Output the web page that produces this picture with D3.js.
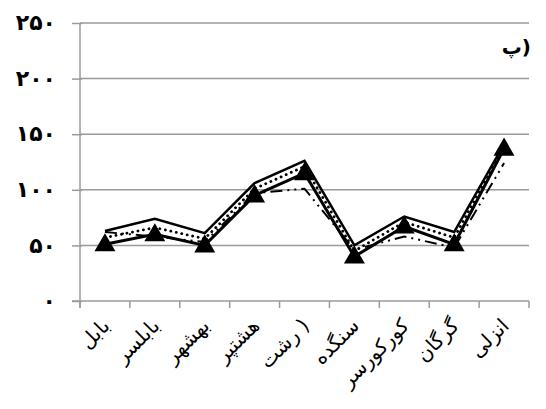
<!DOCTYPE html>
<html>
<head>
<meta charset="utf-8">
<script src="https://cdn.jsdelivr.net/npm/d3@7"></script>
<style>
  html, body { margin: 0; padding: 0; background: #fff; }
  svg { display: block; }
</style>
</head>
<body>
<svg id="chart" width="546" height="409"></svg>
<script>
// Stations along the x axis
const categories = ["بابل", "بابلسر", "بهشهر", "هشتپر", "رشت )", "سنگده", "کورکورسر", "گرگان", "انزلی"];

// Series values per station
const solidSeries    = [63, 74, 61, 106, 126, 50, 76, 62, 141];
const dottedSeries   = [57, 66, 56, 101, 121, 45, 71, 57, 139];
const dashDotSeries  = [62, 58, 53, 97, 101, 46, 58, 48, 124];
const triangleSeries = [51, 60, 50, 95, 115, 40, 67, 51, 137];

// Y axis ticks and their Persian labels
const yTicks = [0, 50, 100, 150, 200, 250];
const yTickLabels = ["۰", "۵۰", "۱۰۰", "۱۵۰", "۲۰۰", "۲۵۰"];

const panelLabel = "پ)";

const svg = d3.select("#chart");
const margin = { left: 80, right: 17, top: 23, bottom: 108 };
const width = 546, height = 409;

const x = d3.scaleBand()
  .domain(categories)
  .range([margin.left, width - margin.right])
  .paddingInner(0).paddingOuter(0);

const y = d3.scaleLinear()
  .domain([0, 250])
  .range([height - margin.bottom, margin.top]);

const gridColor = "#9a9a9a";
const fontFamily = "DejaVu Sans, sans-serif";

// Horizontal gridlines
svg.append("g")
  .selectAll("line")
  .data(yTicks.filter(d => d > 0))
  .join("line")
  .attr("x1", margin.left)
  .attr("x2", width - margin.right)
  .attr("y1", d => y(d))
  .attr("y2", d => y(d))
  .attr("stroke", gridColor)
  .attr("stroke-width", 1.5);

// Y axis
const yAxis = d3.axisLeft(y)
  .tickValues(yTicks)
  .tickSize(8)
  .tickFormat((d, i) => yTickLabels[i]);

const yG = svg.append("g")
  .attr("transform", `translate(${margin.left},0)`)
  .call(yAxis);
yG.select(".domain").attr("stroke", gridColor).attr("stroke-width", 1.5)
  .attr("d", `M0,${y(0) + 6}V${y(250)}`);
yG.selectAll(".tick line").attr("stroke", gridColor).attr("stroke-width", 1.5)
  .attr("x1", 2);
yG.selectAll(".tick text")
  .attr("x", -24)
  .attr("dy", "0.3em")
  .attr("fill", "#000")
  .attr("font-family", fontFamily)
  .attr("font-weight", "bold")
  .attr("font-size", 22)
  .attr("letter-spacing", 6)
  .attr("text-anchor", "end");

// X axis with ticks at category boundaries
const boundaries = categories.map(c => x(c)).concat([x(categories[categories.length - 1]) + x.bandwidth()]);
const xG = svg.append("g");
xG.append("line")
  .attr("x1", margin.left - 8)
  .attr("x2", width - margin.right)
  .attr("y1", y(0)).attr("y2", y(0))
  .attr("stroke", gridColor).attr("stroke-width", 1.5);
xG.selectAll("line.tick")
  .data(boundaries)
  .join("line")
  .attr("class", "tick")
  .attr("x1", d => d).attr("x2", d => d)
  .attr("y1", y(0)).attr("y2", y(0) + 7)
  .attr("stroke", gridColor).attr("stroke-width", 1.5);

// Rotated station labels
xG.selectAll("text")
  .data(categories)
  .join("text")
  .attr("transform", d => `translate(${x(d) + x.bandwidth() / 2 + 6},${y(0) + 26}) rotate(-45)`)
  .attr("text-anchor", "end")
  .attr("font-family", fontFamily)
  .attr("font-size", 20)
  .attr("fill", "#000")
  .text(d => d);

const cx = d => x(d) + x.bandwidth() / 2;
const lineOf = vals => d3.line()
  .x((d, i) => cx(categories[i]))
  .y(d => y(d))(vals);

// Dash-dot series
svg.append("path")
  .attr("d", lineOf(dashDotSeries))
  .attr("fill", "none")
  .attr("stroke", "#000")
  .attr("stroke-width", 2)
  .attr("stroke-dasharray", "12,5,2,5,2,5");

// Solid series
svg.append("path")
  .attr("d", lineOf(solidSeries))
  .attr("fill", "none")
  .attr("stroke", "#000")
  .attr("stroke-width", 2.5)
  .attr("stroke-linejoin", "miter");

// Dotted series
svg.append("path")
  .attr("d", lineOf(dottedSeries))
  .attr("fill", "none")
  .attr("stroke", "#000")
  .attr("stroke-width", 2.8)
  .attr("stroke-linecap", "round")
  .attr("stroke-dasharray", "0.1,5.5");

// Series with triangle markers
svg.append("path")
  .attr("d", lineOf(triangleSeries))
  .attr("fill", "none")
  .attr("stroke", "#000")
  .attr("stroke-width", 3);

const tri = d3.symbol().type(d3.symbolTriangle).size(190);
svg.append("g")
  .selectAll("path")
  .data(triangleSeries)
  .join("path")
  .attr("transform", (d, i) => `translate(${cx(categories[i])},${y(d) + 1})`)
  .attr("d", tri)
  .attr("fill", "#000");

// Panel label
svg.append("text")
  .attr("x", 531)
  .attr("y", 54)
  .attr("text-anchor", "end")
  .attr("font-family", fontFamily)
  .attr("font-weight", "bold")
  .attr("font-size", 20)
  .attr("fill", "#000")
  .text(panelLabel);
</script>
</body>
</html>
